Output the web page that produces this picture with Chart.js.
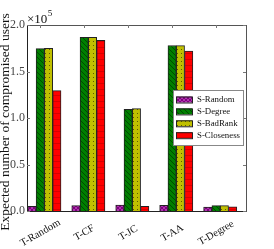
<!DOCTYPE html>
<html>
<head>
<meta charset="utf-8">
<script src="https://cdn.jsdelivr.net/npm/chart.js@4.4.1/dist/chart.umd.min.js"></script>
<style>
  html, body { margin: 0; padding: 0; background: #fff; }
  #wrap { width: 274px; height: 249px; }
</style>
</head>
<body>
<div id="wrap"><canvas id="chart" width="274" height="249"></canvas></div>
<script>
// targets (x categories) and seeding strategies (series)
const targets = ["T-Random", "T-CF", "T-JC", "T-AA", "T-Degree"];
const seriesNames = ["S-Random", "S-Degree", "S-BadRank", "S-Closeness"];

// expected number of compromised users
const sRandom    = [5000, 5800, 6500, 6000, 4200];
const sDegree    = [174600, 186800, 109400, 178000, 5800];
const sBadRank   = [175000, 186800, 110000, 177800, 5800];
const sCloseness = [129500, 183500, 5000, 172000, 4500];

const yTicks = [0, 50000, 100000, 150000, 200000];
const yTitle = "Expected number of compromised users";

let ctx;
let chart;

function makePattern(bg, size, draw){
  let c = document.createElement("canvas");
  c.width = size; c.height = size;
  let g = c.getContext("2d");
  g.fillStyle = bg;
  g.fillRect(0, 0, size, size);
  draw(g);
  return ctx.createPattern(c, "repeat");
}

function buildPatterns(){
  //purple crosshatch
  let purple = makePattern("#7f007f", 4, g => {
    g.strokeStyle = "#c050c0"; g.lineWidth = 0.7;
    g.beginPath();
    g.moveTo(0, 0); g.lineTo(4, 4);
    g.moveTo(4, 0); g.lineTo(0, 4);
    g.stroke();
  });
  //green back-slash hatch
  let green = makePattern("#007f00", 5, g => {
    g.strokeStyle = "#003a00"; g.lineWidth = 0.8;
    g.beginPath();
    g.moveTo(-1, -1); g.lineTo(6, 6);
    g.stroke();
  });
  //yellow dots
  let yellow = makePattern("#c0c000", 4, g => {
    g.fillStyle = "#5c5c00";
    g.fillRect(1, 1, 1, 1);
  });
  //red horizontal lines
  let red = makePattern("#ff0000", 6, g => {
    g.fillStyle = "#d80000";
    g.fillRect(0, 5, 6, 1);
  });
  return [purple, green, yellow, red];
}

const boxPlugin = {
  id: "box",
  afterDraw(c){
    let a = c.chartArea;
    let g = c.ctx;
    let x = c.scales.x, y = c.scales.y;
    g.save();
    //frame
    g.strokeStyle = "#555";
    g.lineWidth = 1;
    g.strokeRect(Math.round(a.left) + 0.5, Math.round(a.top) + 0.5, Math.round(a.right - a.left), Math.round(a.bottom - a.top));
    g.strokeStyle = "#222";
    g.beginPath();
    g.moveTo(a.left, Math.round(a.bottom) + 0.5); g.lineTo(a.right, Math.round(a.bottom) + 0.5);
    g.moveTo(Math.round(a.left) + 0.5, a.top); g.lineTo(Math.round(a.left) + 0.5, a.bottom);
    g.stroke();
    //inward ticks
    g.strokeStyle = "#777";
    g.beginPath();
    for(let v of yTicks){
      let py = Math.round(y.getPixelForValue(v)) + 0.5;
      g.moveTo(a.left, py); g.lineTo(a.left + 3, py);
      g.moveTo(a.right, py); g.lineTo(a.right - 3, py);
    }
    targets.forEach((t, i) => {
      let px = Math.round(x.getPixelForValue(i) - 4.5) + 0.5;
      g.moveTo(px, a.top); g.lineTo(px, a.top + 3);
    });
    g.stroke();

    //x labels, rotated
    g.fillStyle = "#111";
    g.font = "10.5px 'Liberation Serif', serif";
    g.textAlign = "center";
    g.textBaseline = "middle";
    targets.forEach((t, i) => {
      let px = x.getPixelForValue(i) - 4;
      g.save();
      g.translate(px, a.bottom + 22);
      g.rotate(-Math.PI / 6);
      g.fillText(t, 0, 0);
      g.restore();
    });

    //y title
    g.save();
    g.translate(5.5, 122);
    g.rotate(-Math.PI / 2);
    g.font = "13.5px 'Liberation Serif', serif";
    g.fillText(yTitle, 0, 0);
    g.restore();

    //multiplier
    g.textAlign = "left";
    g.textBaseline = "alphabetic";
    g.font = "13px 'Liberation Serif', serif";
    g.fillText("\u00d710", a.left, a.top - 2);
    let w = g.measureText("\u00d710").width;
    g.font = "9px 'Liberation Serif', serif";
    g.fillText("5", a.left + w + 0.5, a.top - 9);

    //legend
    let lx = 173, ly = 90, lw = 70, lh = 55;
    g.fillStyle = "#fff";
    g.fillRect(lx, ly, lw, lh);
    g.strokeStyle = "#888";
    g.strokeRect(lx + 0.5, ly + 0.5, lw, lh);
    g.font = "8.8px 'Liberation Serif', serif";
    g.textBaseline = "middle";
    c.data.datasets.forEach((ds, i) => {
      let ry = ly + 9.5 + i * 11.9;
      g.fillStyle = ds.backgroundColor;
      g.fillRect(lx + 3, ry - 3, 16, 6);
      g.strokeStyle = "#222";
      g.strokeRect(lx + 3.5, ry - 2.5, 16, 6);
      g.fillStyle = "#111";
      g.fillText(ds.label, lx + 24, ry + 0.5);
    });
    g.restore();
  }
};

function init(){
  ctx = document.querySelector("#chart").getContext("2d");
  let patterns = buildPatterns();
  let series = [sRandom, sDegree, sBadRank, sCloseness];

  chart = new Chart(ctx, {
    type: "bar",
    data: {
      datasets: series.map((vals, i) => ({
        label: seriesNames[i],
        data: vals.map((v, j) => ({x: j, y: v})),
        backgroundColor: patterns[i],
        borderColor: "#222",
        borderWidth: 1,
        barThickness: 8.3
      }))
    },
    options: {
      responsive: false,
      animation: false,
      devicePixelRatio: 1,
      layout: { padding: { top: 25, right: 28, left: 0, bottom: 0 } },
      plugins: {
        legend: { display: false },
        tooltip: { enabled: false }
      },
      scales: {
        x: {
          type: "linear",
          offset: false,
          min: -0.396,
          max: 4.587,
          grid: { display: false },
          border: { display: false },
          ticks: { display: false },
          afterBuildTicks: s => { s.ticks = targets.map((t, i) => ({value: i})); },
          afterFit: s => { s.height = 38; }
        },
        y: {
          min: 0,
          max: 200000,
          grid: { display: false, drawTicks: false },
          border: { display: false },
          afterBuildTicks: s => { s.ticks = yTicks.map(v => ({value: v})); },
          ticks: {
            padding: 2,
            color: "#444",
            font: { family: "'Liberation Serif', serif", size: 12 },
            callback: v => (v / 100000).toFixed(1)
          },
          afterFit: s => { s.width = 27; }
        }
      }
    },
    plugins: [boxPlugin]
  });
}

window.addEventListener("load", init);
</script>
</body>
</html>
